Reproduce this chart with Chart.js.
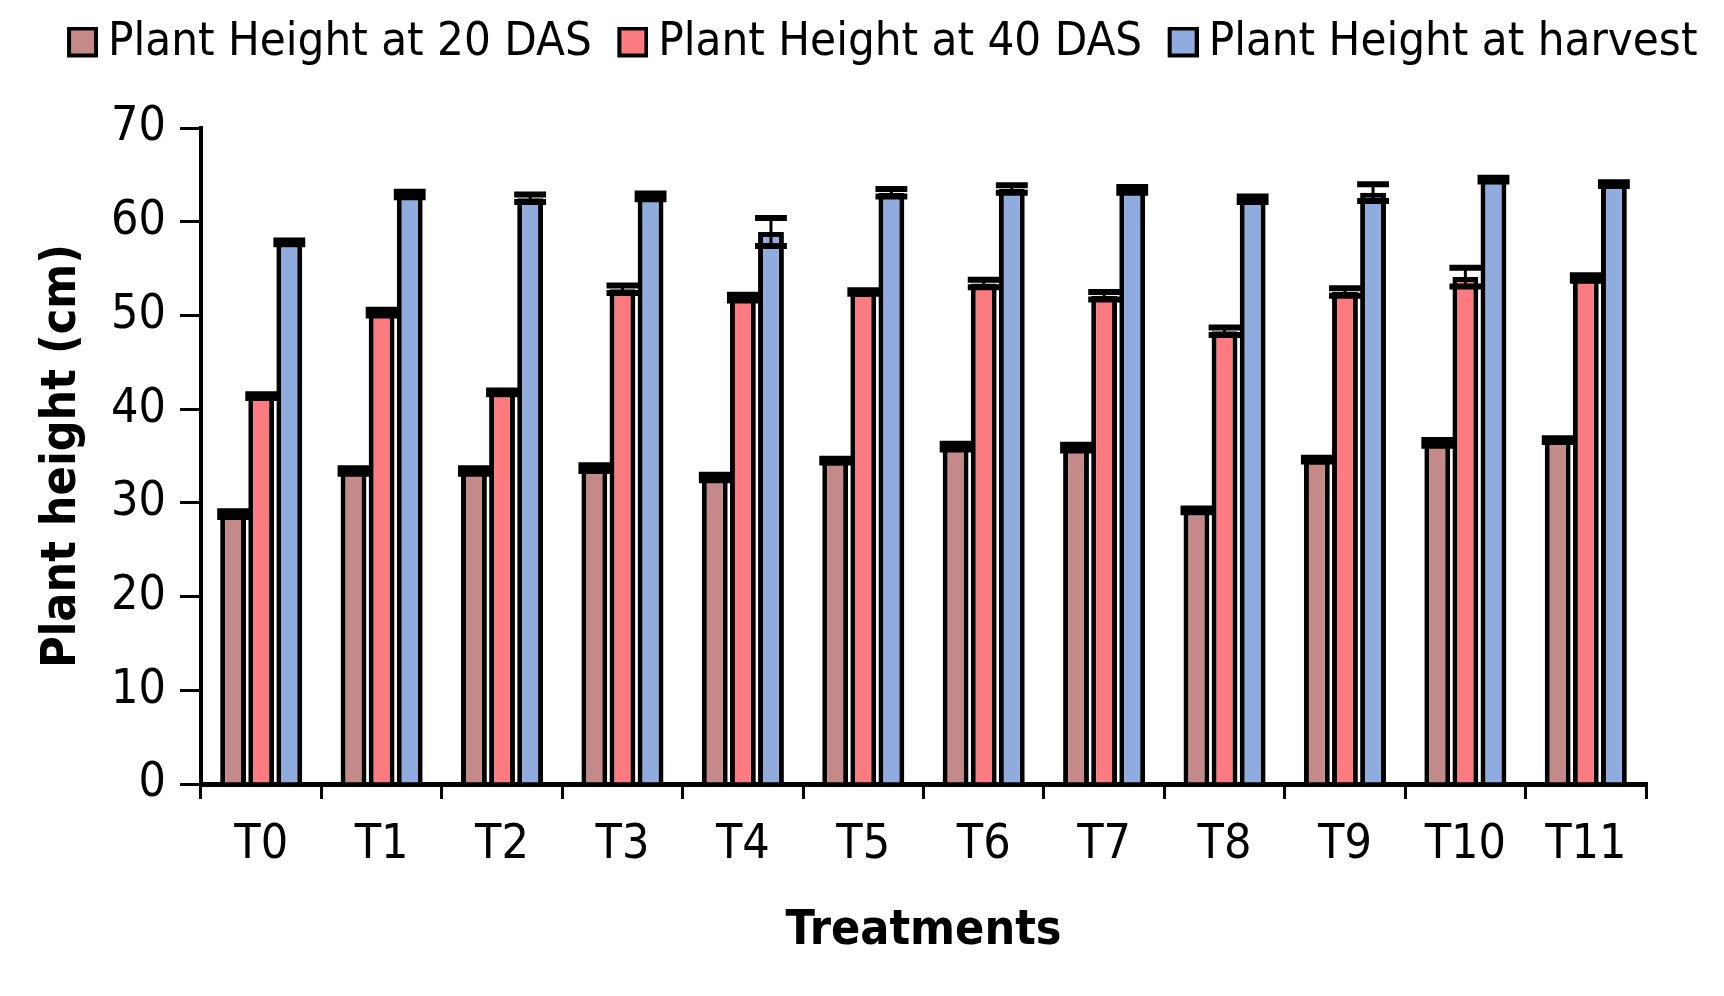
<!DOCTYPE html>
<html>
<head>
<meta charset="utf-8">
<script src="https://cdn.jsdelivr.net/npm/chart.js@4.4.1/dist/chart.umd.min.js"></script>
<style>
  body { margin: 0; background: #fff; }
  #wrap { width: 1724px; height: 996px; }
</style>
</head>
<body>
<div id="wrap"><canvas id="bar-chart"></canvas></div>
<script>
var treatments = ["T0", "T1", "T2", "T3", "T4", "T5", "T6", "T7", "T8", "T9", "T10", "T11"];
var height20 = [28.8, 33.4, 33.4, 33.7, 32.7, 34.5, 36.0, 35.9, 29.2, 34.6, 36.4, 36.7];
var height40 = [41.4, 50.3, 41.8, 52.8, 51.9, 52.5, 53.4, 52.1, 48.3, 52.5, 54.1, 54.0];
var heightHarvest = [57.8, 62.9, 62.5, 62.7, 58.9, 63.1, 63.5, 63.4, 62.4, 63.1, 64.5, 64.0];
var err20 = [0.3, 0.3, 0.3, 0.3, 0.3, 0.2, 0.3, 0.3, 0.2, 0.2, 0.3, 0.2];
var err40 = [0.2, 0.3, 0.2, 0.4, 0.3, 0.2, 0.4, 0.4, 0.4, 0.4, 1.0, 0.3];
var errHarvest = [0.2, 0.3, 0.4, 0.3, 1.5, 0.4, 0.4, 0.3, 0.3, 0.9, 0.2, 0.2];
var yTicks = [0, 10, 20, 30, 40, 50, 60, 70];

var FONT = "'DejaVu Sans Condensed', 'DejaVu Sans', sans-serif";
var colors = ["#C48A89", "#FB7B80", "#90ACDE"];
var errors = [err20, err40, errHarvest];

// legend swatch: square sits at the right end so it hugs the text
function legendBox(color) {
  var cv = document.createElement('canvas');
  cv.width = 66; cv.height = 32;
  var g = cv.getContext('2d');
  g.fillStyle = '#000'; g.fillRect(35, 0, 31, 31);
  g.fillStyle = color; g.fillRect(39, 4, 23, 23);
  return cv;
}
var boxes = colors.map(legendBox);

// error bars, drawn from the y scale
var errorBars = {
  id: 'errorBars',
  afterDatasetsDraw: function(chart) {
    var c = chart.ctx, y = chart.scales.y;
    c.save();
    c.strokeStyle = '#000';
    chart.data.datasets.forEach(function(ds, i) {
      var meta = chart.getDatasetMeta(i);
      meta.data.forEach(function(bar, j) {
        var v = ds.data[j], e = errors[i][j];
        var top = y.getPixelForValue(v + e), bot = y.getPixelForValue(v - e);
        var half = bar.width / 2 + 3;
        c.lineWidth = 3;
        c.beginPath(); c.moveTo(bar.x, top); c.lineTo(bar.x, bot); c.stroke();
        c.lineWidth = 6;
        c.beginPath();
        c.moveTo(bar.x - half, top); c.lineTo(bar.x + half, top);
        c.moveTo(bar.x - half, bot); c.lineTo(bar.x + half, bot);
        c.stroke();
      });
    });
    c.restore();
  }
};

// more room under the legend
var legendGap = {
  id: 'legendGap',
  beforeInit: function(chart) {
    var fit = chart.legend.fit;
    chart.legend.fit = function() {
      fit.bind(chart.legend)();
      this.height += 52;
    };
  }
};

var ctx = document.getElementById("bar-chart");
var barChart = new Chart(ctx, {
  type: 'bar',
  data: {
    labels: treatments,
    datasets: [
      { label: "Plant Height at 20 DAS", data: height20, backgroundColor: colors[0], borderColor: "#000", borderWidth: 5 },
      { label: "Plant Height at 40 DAS", data: height40, backgroundColor: colors[1], borderColor: "#000", borderWidth: 5 },
      { label: "Plant Height at harvest", data: heightHarvest, backgroundColor: colors[2], borderColor: "#000", borderWidth: 5 }
    ]
  },
  options: {
    responsive: true,
    maintainAspectRatio: false,
    devicePixelRatio: 1,
    animation: false,
    categoryPercentage: 0.7,
    barPercentage: 0.92,
    layout: { padding: { top: 15, right: 0, bottom: 0, left: 19 } },
    plugins: {
      tooltip: { enabled: false },
      legend: {
        position: 'top',
        labels: {
          color: '#000',
          font: { family: FONT, size: 47 },
          usePointStyle: true,
          pointStyleWidth: 39,
          boxHeight: 31,
          padding: 4,
          generateLabels: function(chart) {
            var items = Chart.defaults.plugins.legend.labels.generateLabels(chart);
            items.forEach(function(it, i) { it.pointStyle = boxes[i]; });
            return items;
          }
        }
      }
    },
    scales: {
      x: {
        grid: { offset: true, drawOnChartArea: false, drawTicks: true, tickLength: 15, color: '#000', lineWidth: 3 },
        border: { display: true, color: '#000', width: 5 },
        ticks: { color: '#000', font: { family: FONT, size: 48 }, padding: 18, maxRotation: 0 },
        title: { display: true, text: 'Treatments', color: '#000', font: { family: FONT, size: 48, weight: 'bold' }, padding: { top: 0, bottom: 36 } },
        afterFit: function(s) { s.height = 212; }
      },
      y: {
        min: 0,
        max: 70,
        afterBuildTicks: function(s) { s.ticks = yTicks.map(function(v) { return { value: v }; }); },
        grid: { drawOnChartArea: false, drawTicks: true, tickLength: 21, color: '#000', lineWidth: 3 },
        border: { display: true, color: '#000', width: 4 },
        ticks: { color: '#000', font: { family: FONT, size: 48 }, padding: 14 },
        title: { display: true, text: 'Plant height (cm)', color: '#000', font: { family: FONT, size: 48, weight: 'bold' }, padding: { top: 15, bottom: 0 } },
        afterFit: function(s) { s.width = 182; }
      },
      // empty strip on the right of the plot
      yRight: {
        type: 'linear',
        position: 'right',
        display: true,
        grid: { display: false },
        border: { display: false },
        ticks: { display: false },
        afterFit: function(s) { s.width = 78; }
      }
    }
  },
  plugins: [errorBars, legendGap]
});
</script>
</body>
</html>
